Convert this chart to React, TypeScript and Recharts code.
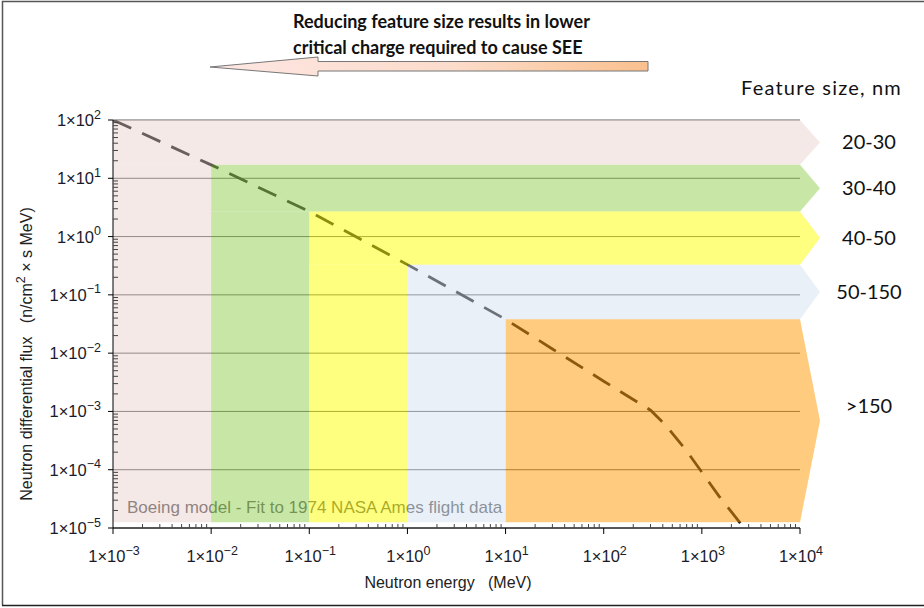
import React from "react";
import { LineChart, Line, XAxis, YAxis, CartesianGrid, ReferenceArea } from "recharts";

// Boeing model flux curve (MeV, n/cm2 s MeV)
const ENERGY = [0.001, 0.01, 0.1, 1, 10, 30, 100, 300, 420, 700, 1500, 2700, 3200];
const FLUX = [100, 17, 2.7, 0.33, 0.038, 0.0118, 0.0033, 0.00105, 0.0006, 0.00021, 0.000035, 0.00001, 0.0000065];

const X_EXP = [-3, -2, -1, 0, 1, 2, 3, 4];
const Y_EXP = [-5, -4, -3, -2, -1, 0, 1, 2];

// feature size bands
const BAND_LABELS = ["20-30", "30-40", "40-50", "50-150", ">150"];
const BAND_START = [0.001, 0.01, 0.1, 1, 10];
const BAND_TOP = [100, 17, 2.7, 0.33, 0.038];
const BAND_FLOOR = 1.25e-5;
const BAND_COLORS = ["#E6C9C4", "#92D050", "#FFFF00", "#CFDDF0", "#FF9900"];
const BAND_OPACITY = [0.4, 0.5, 0.5, 0.45, 0.5];

const X_MAX = 10000;
const W = 924;
const H = 608;
const AXIS_FONT = "'Liberation Sans', Arial, sans-serif";
const NOTE_FONT = "Lato, 'Open Sans', sans-serif";

const data = ENERGY.map((e, i) => ({ energy: e, flux: FLUX[i] }));

const withMinors = (exps: number[]) => {
  const out: number[] = [];
  exps.forEach((e, i) => {
    out.push(Math.pow(10, e));
    if (i < exps.length - 1) for (let m = 2; m <= 9; m++) out.push(m * Math.pow(10, e));
  });
  return out;
};
const X_TICKS = withMinors(X_EXP);
const Y_TICKS = withMinors(Y_EXP);

const expOf = (v: number) => {
  const l = Math.log10(v);
  const e = Math.round(l);
  return Math.abs(l - e) < 1e-6 ? e : null;
};
const supText = (e: number) => (e < 0 ? "\u2212" + Math.abs(e) : String(e));

function PowLabel({ x, y, e, anchor }: { x: number; y: number; e: number; anchor: "end" | "middle" }) {
  return (
    <text x={x} y={y} textAnchor={anchor} fontFamily={AXIS_FONT} fontSize={16.5} fill="#1a1a2a">
      1×10
      <tspan dy={-7.5} fontSize={12.5}>
        {supText(e)}
      </tspan>
    </text>
  );
}

function YTick(props: any) {
  const { x, y, payload } = props;
  const e = expOf(payload.value);
  if (e === null) return <line x1={x} x2={x + 5} y1={y} y2={y} stroke="#444" />;
  return (
    <g>
      <line x1={x - 5} x2={x} y1={y} y2={y} stroke="#000" />
      <PowLabel x={x - 12} y={y + 6} e={e} anchor="end" />
    </g>
  );
}

function XTick(props: any) {
  const { x, y, payload } = props;
  const e = expOf(payload.value);
  if (e === null) return <line x1={x} x2={x} y1={y} y2={y - 4} stroke="#444" />;
  return (
    <g>
      <line x1={x} x2={x} y1={y} y2={y + 6} stroke="#000" />
      <PowLabel x={x + 1} y={y + 34} e={e} anchor="middle" />
    </g>
  );
}

// horizontal strip of a band, with the arrow head and its label past the plot
function StripShape(label: string, tall: boolean) {
  return (p: any) => {
    const { x, y, width, height, fill, fillOpacity } = p;
    const r = x + width;
    const pts = `${x},${y} ${r},${y} ${r + 20},${y + height / 2} ${r},${y + height} ${x},${y + height}`;
    const ly = y + height / 2 + 7 - (tall ? 15 : 0);
    return (
      <g>
        <polygon points={pts} fill={fill} fillOpacity={fillOpacity} />
        <text x={r + 69} y={ly} textAnchor="middle" fontFamily={NOTE_FONT} fontSize={20} fill="#111">
          {label}
        </text>
      </g>
    );
  };
}

export default function App() {
  const last = BAND_LABELS.length - 1;
  const strips = BAND_LABELS.map((label, i) => (
    <ReferenceArea
      key={"s" + i}
      x1={BAND_START[i]}
      x2={X_MAX}
      y1={i < last ? BAND_TOP[i + 1] : BAND_FLOOR}
      y2={BAND_TOP[i]}
      fill={BAND_COLORS[i]}
      fillOpacity={BAND_OPACITY[i]}
      stroke="none"
      zIndex={450}
      shape={StripShape(label, i === last)}
    />
  ));
  const columns = BAND_LABELS.slice(0, -1).map((_, i) => (
    <ReferenceArea
      key={"c" + i}
      x1={BAND_START[i]}
      x2={BAND_START[i + 1]}
      y1={BAND_FLOOR}
      y2={BAND_TOP[i + 1]}
      fill={BAND_COLORS[i]}
      fillOpacity={BAND_OPACITY[i]}
      stroke="none"
      zIndex={450}
    />
  ));

  return (
    <div style={{ position: "absolute", left: 0, top: 0, width: W, height: H, background: "#fff" }}>
      <LineChart width={W} height={H} data={data} margin={{ top: 120, right: 124, bottom: 0, left: 0 }}>
        <CartesianGrid horizontal vertical={false} stroke="#606060" horizontalValues={Y_EXP.map((e) => Math.pow(10, e))} />
        <XAxis
          dataKey="energy"
          type="number"
          scale="log"
          domain={[0.001, X_MAX]}
          allowDataOverflow
          ticks={X_TICKS}
          interval={0}
          tickSize={0}
          tickMargin={0}
          tickLine={false}
          height={80}
          stroke="#000"
          tick={(p: any) => <XTick {...p} />}
        />
        <YAxis
          dataKey="flux"
          type="number"
          scale="log"
          domain={[1e-5, 100]}
          allowDataOverflow
          ticks={Y_TICKS}
          interval={0}
          tickSize={0}
          tickMargin={0}
          tickLine={false}
          width={113}
          stroke="#000"
          tick={(p: any) => <YTick {...p} />}
        />
        <text x={127} y={513} fontFamily={AXIS_FONT} fontSize={17} fill="#555">
          Boeing model - Fit to 1974 NASA Ames flight data
        </text>
        <Line
          dataKey="flux"
          stroke="#1a1a1a"
          strokeWidth={2.8}
          strokeDasharray="20 12"
          dot={false}
          isAnimationActive={false}
        />
        {strips}
        {columns}
      </LineChart>

      <svg width={W} height={H} style={{ position: "absolute", left: 0, top: 0, pointerEvents: "none" }}>
        <defs>
          <linearGradient id="arrowFill" x1="0" x2="1" y1="0" y2="0">
            <stop offset="0" stopColor="#FDE6E3" />
            <stop offset="0.55" stopColor="#FCDCCB" />
            <stop offset="1" stopColor="#FAC08E" />
          </linearGradient>
        </defs>
        <polyline points="2.5,605.5 2.5,1.5 924,1.5" fill="none" stroke="#555" strokeWidth={1.5} />
        <line x1={2} x2={924} y1={605.5} y2={605.5} stroke="#222" strokeWidth={1.5} />
        <text fontFamily={NOTE_FONT} fontWeight={700} fontSize={18} fill="#111">
          <tspan x={293} y={28}>Reducing feature size results in lower</tspan>
          <tspan x={293} y={54}>critical charge required to cause SEE</tspan>
        </text>
        <polygon
          points="210,67 318,57 318,61.5 648,61.5 648,71 318,71 318,76"
          fill="url(#arrowFill)"
          stroke="#777"
          strokeWidth={1}
        />
        <text x={741} y={95} fontFamily={NOTE_FONT} fontSize={20} letterSpacing={1.2} fill="#111">
          Feature size, nm
        </text>
        <text
          transform="rotate(-90)"
          x={-354}
          y={32}
          textAnchor="middle"
          fontFamily={AXIS_FONT}
          fontSize={16}
          fill="#222"
        >
          Neutron differential flux{"\u00a0\u00a0\u00a0"}(n/cm
          <tspan dy={-7} fontSize={12.5}>2</tspan>
          <tspan dy={7}> × s MeV)</tspan>
        </text>
        <text x={448} y={588} textAnchor="middle" fontFamily={AXIS_FONT} fontSize={16} fill="#222">
          Neutron energy{"\u00a0\u00a0\u00a0"}(MeV)
        </text>
      </svg>
    </div>
  );
}
